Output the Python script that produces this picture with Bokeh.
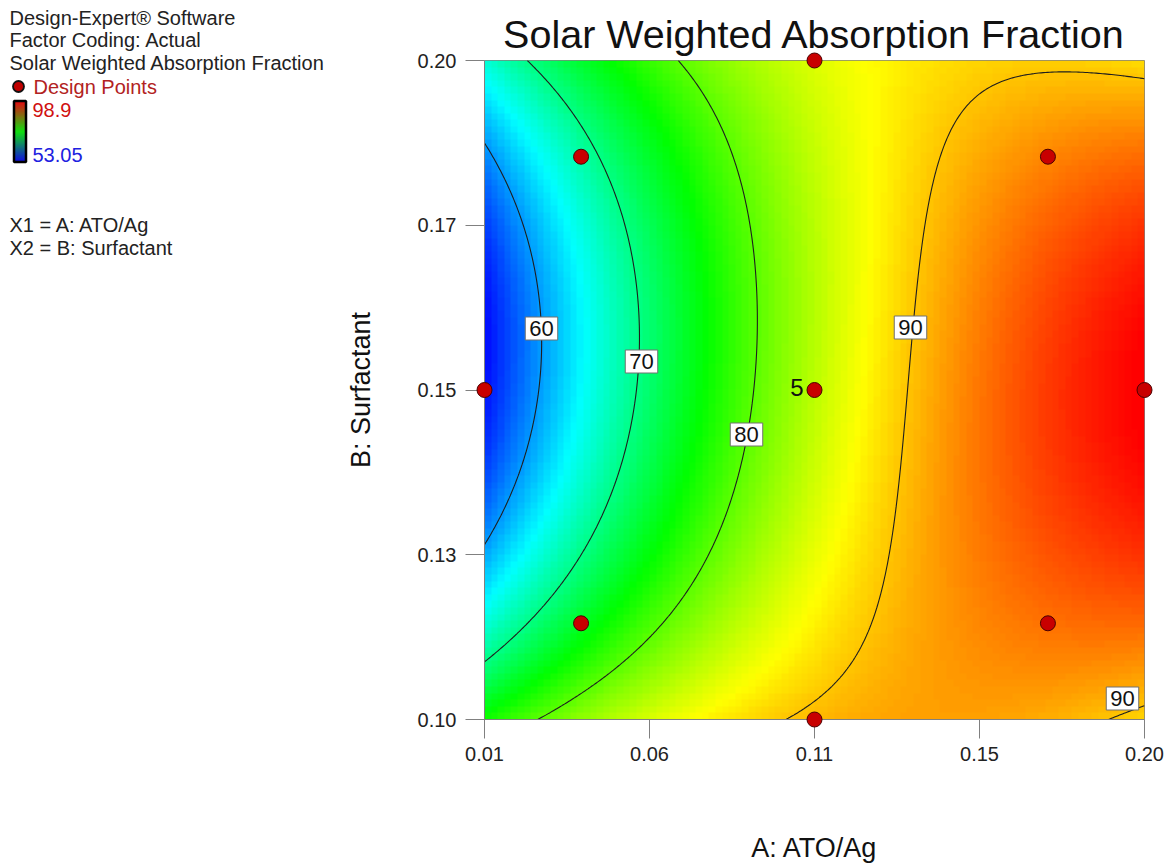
import numpy as np
from bokeh.plotting import figure
from bokeh.models import Range1d, LinearColorMapper, FixedTicker, Label
from bokeh.core.properties import value
from bokeh.embed import file_html
from bokeh.resources import INLINE

# ---------------- data ----------------
X_TICKS = [0.01, 0.0575, 0.105, 0.1525, 0.20]
X_TICK_LABELS = ["0.01", "0.06", "0.11", "0.15", "0.20"]
Y_TICKS = [0.10, 0.125, 0.15, 0.175, 0.20]
Y_TICK_LABELS = ["0.10", "0.13", "0.15", "0.17", "0.20"]

design_A = [0.0378, 0.1722, 0.0378, 0.1722, 0.01, 0.20, 0.105, 0.105, 0.105]
design_B = [0.1854, 0.1854, 0.1146, 0.1146, 0.15, 0.15, 0.10, 0.20, 0.15]
center_replicates = "5"

z_min, z_max = 53.05, 98.9
contour_levels = [60, 70, 80, 90]

# points (A, B)
c60_A = [0.0100, 0.0189, 0.0267, 0.0270, 0.0267, 0.0241, 0.0166, 0.0100]
c60_B = [0.1866, 0.1788, 0.1636, 0.1590, 0.1560, 0.1434, 0.1332, 0.1279]
c70_A = [0.0218, 0.0391, 0.0506, 0.0558, 0.0549, 0.0529, 0.0463, 0.0319, 0.0100]
c70_B = [0.2000, 0.1848, 0.1727, 0.1636, 0.1545, 0.1434, 0.1332, 0.1211, 0.1097]
c80_A = [0.0684, 0.0794, 0.0872, 0.0895, 0.0834, 0.0693, 0.0492, 0.0218]
c80_B = [0.2000, 0.1863, 0.1712, 0.1545, 0.1363, 0.1196, 0.1090, 0.1000]
c90_A = [0.0961, 0.1087, 0.1182, 0.1234, 0.1254, 0.1292, 0.1323, 0.1340,
         0.1421, 0.1490, 0.1565, 0.1680, 0.1824, 0.1994, 0.1873, 0.2000]
c90_B = [0.1000, 0.1039, 0.1090, 0.1165, 0.1241, 0.1363, 0.1545, 0.1636,
         0.1848, 0.1914, 0.1954, 0.1977, 0.1982, 0.1977, 0.1000, 0.1012]
# a few values estimated from colours
extra_A = [0.20, 0.01, 0.105, 0.17, 0.01, 0.01, 0.20, 0.20, 0.0575, 0.105]
extra_B = [0.15, 0.157, 0.15, 0.15, 0.20, 0.10, 0.20, 0.10, 0.10, 0.10]
extra_Z = [98.9, 53.05, 85.5, 96.0, 66.0, 75.5, 89.0, 89.0, 85.0, 91.0]

# ---------------- response surface fitted to the readings ----------------
obs_A = np.array(c60_A + c70_A + c80_A + c90_A + extra_A)
obs_B = np.array(c60_B + c70_B + c80_B + c90_B + extra_B)
obs_Z = np.array([60] * len(c60_A) + [70] * len(c70_A) + [80] * len(c80_A)
                 + [90] * len(c90_A) + extra_Z, dtype=float)


def terms(A, B):
    u = (np.asarray(A, float) - 0.105) / 0.095
    v = (np.asarray(B, float) - 0.15) / 0.05
    return np.stack([np.ones_like(u), u, v, u * v, u ** 2, v ** 2,
                     u ** 2 * v, u * v ** 2, u ** 3, v ** 3], axis=-1)


coef, *_ = np.linalg.lstsq(terms(obs_A, obs_B), obs_Z, rcond=None)


def model(A, B):
    return terms(A, B) @ coef


A0, A1, B0, B1 = 0.01, 0.20, 0.10, 0.20
n_img = 100
ac = A0 + (np.arange(n_img) + 0.5) * (A1 - A0) / n_img
bc = B0 + (np.arange(n_img) + 0.5) * (B1 - B0) / n_img
AA, BB = np.meshgrid(ac, bc)
Z_img = np.clip(model(AA, BB), z_min, z_max)

ag = np.linspace(A0, A1, 301)
bg = np.linspace(B0, B1, 301)
AG, BG = np.meshgrid(ag, bg)
Z_ctr = model(AG, BG)

# palette blue -> cyan -> green -> yellow -> red
stops = np.array([[0, 0, 255], [0, 255, 255], [0, 255, 0], [255, 255, 0], [255, 0, 0]], float)
pos = np.linspace(0, 1, len(stops))
pal = []
for ti in np.linspace(0, 1, 256):
    rgb = [np.interp(ti, pos, stops[:, k]) for k in range(3)]
    pal.append("#%02x%02x%02x" % tuple(int(round(c)) for c in rgb))
mapper = LinearColorMapper(palette=pal, low=z_min, high=z_max)

FONT = "Liberation Sans"

# ---------------- figure ----------------
p = figure(width=1164, height=865, x_range=Range1d(A0, A1), y_range=Range1d(B0, B1),
           output_backend="svg", toolbar_location=None,
           min_border_left=484, min_border_right=20, min_border_top=60, min_border_bottom=146,
           title="Solar Weighted Absorption Fraction")
p.title.align = "center"
p.title.text_font = FONT
p.title.text_font_size = "39.5px"
p.title.text_font_style = "normal"
p.title.text_color = "#111111"
p.grid.visible = False
p.outline_line_color = "#808080"
p.background_fill_color = "white"

p.image(image=[Z_img], x=A0, y=B0, dw=A1 - A0, dh=B1 - B0, color_mapper=mapper)
p.contour(ag, bg, Z_ctr, levels=contour_levels, line_color="#1e1e1e", line_width=1.1)

for ax, ticks, labels in ((p.xaxis, X_TICKS, X_TICK_LABELS), (p.yaxis, Y_TICKS, Y_TICK_LABELS)):
    ax.ticker = FixedTicker(ticks=ticks)
    ax.major_label_overrides = {tk: lb for tk, lb in zip(ticks, labels)}
    ax.minor_tick_line_color = None
    ax.major_tick_in = 0
    ax.major_tick_out = 19
    ax.axis_line_color = "#808080"
    ax.major_tick_line_color = "#808080"
    ax.major_label_text_font = FONT
    ax.major_label_text_font_size = "20px"
    ax.major_label_text_color = "#222222"
    ax.axis_label_text_font = FONT
    ax.axis_label_text_font_size = "27px"
    ax.axis_label_text_font_style = "normal"
    ax.axis_label_text_color = "#111111"
p.xaxis.axis_label = "A: ATO/Ag"
p.yaxis.axis_label = "B: Surfactant"
p.xaxis.major_label_standoff = 8
p.yaxis.major_label_standoff = 9
p.xaxis.axis_label_standoff = 69
p.yaxis.axis_label_standoff = 39


def pxA(px):
    return A0 + (px - 484) / 660 * (A1 - A0)


def pxB(py):
    return B0 + (719 - py) / 659 * (B1 - B0)


for txt, cx, cy in (("60", 541, 328), ("70", 641, 361), ("80", 746, 434),
                    ("90", 910, 327), ("90", 1122, 698)):
    p.add_layout(Label(x=pxA(cx), y=pxB(cy), text=txt, text_align="center",
                       text_baseline="middle", text_font=FONT, text_font_size="22px",
                       text_color="#111111", background_fill_color="white",
                       border_line_color="#707070", border_line_width=1, padding=4))

p.scatter(design_A, design_B, size=15, fill_color="#c80000", line_color="#4a0000",
          line_width=1, level="overlay")
p.add_layout(Label(x=design_A[-1], y=design_B[-1], text=center_replicates, x_offset=-11,
                   y_offset=3, text_align="right", text_baseline="middle",
                   text_font=FONT, text_font_size="24px", text_color="#111111"))

# ---------------- left information block ----------------
LS = "20px"
info = ["Design-Expert\u00ae Software", "Factor Coding: Actual", "Solar Weighted Absorption Fraction"]
p.text(x=[pxA(9)] * 3, y=[pxB(17), pxB(39), pxB(62)], text=info, text_font=value(FONT),
       text_font_size=LS, text_baseline="middle", text_color="#222222", level="overlay")
p.ellipse(x=[pxA(18)], y=[pxB(86)], width=11, height=11, width_units="screen",
          height_units="screen", fill_color="#c00000", line_color="#111111",
          line_width=1.8, level="overlay")
p.text(x=[pxA(33)], y=[pxB(86)], text=["Design Points"], text_font=value(FONT),
       text_font_size=LS, text_baseline="middle", text_color="#b22222", level="overlay")
nb = 60
cb_cols = []
for ti in np.linspace(0, 1, nb):
    rgb = [np.interp(ti, [0, 0.5, 1], [c0, c1, c2]) for c0, c1, c2 in
           zip([0, 0, 220], [0, 220, 0], [220, 0, 0])]
    cb_cols.append("#%02x%02x%02x" % tuple(int(round(c)) for c in rgb))
top_y = 101
p.quad(left=[pxA(14)] * nb, right=[pxA(25)] * nb,
       top=[pxB(top_y + 60 * (1 - (i + 1) / nb)) for i in range(nb)],
       bottom=[pxB(top_y + 60 * (1 - i / nb)) for i in range(nb)],
       fill_color=cb_cols, line_color=cb_cols, line_width=0.5, level="overlay")
p.quad(left=[pxA(13.5)], right=[pxA(25.5)], top=[pxB(100.5)], bottom=[pxB(161.5)],
       fill_color=None, line_color="black", line_width=2.5, level="overlay")
p.text(x=[pxA(32)], y=[pxB(109)], text=["98.9"], text_font=value(FONT), text_font_size=LS,
       text_baseline="middle", text_color="#d01010", level="overlay")
p.text(x=[pxA(32)], y=[pxB(154)], text=["53.05"], text_font=value(FONT), text_font_size=LS,
       text_baseline="middle", text_color="#2020e0", level="overlay")
p.text(x=[pxA(9), pxA(9)], y=[pxB(224), pxB(247)], text=["X1 = A: ATO/Ag", "X2 = B: Surfactant"],
       text_font=value(FONT), text_font_size=LS, text_baseline="middle", text_color="#222222",
       level="overlay")

open("out.html", "w").write(file_html(p, INLINE))
